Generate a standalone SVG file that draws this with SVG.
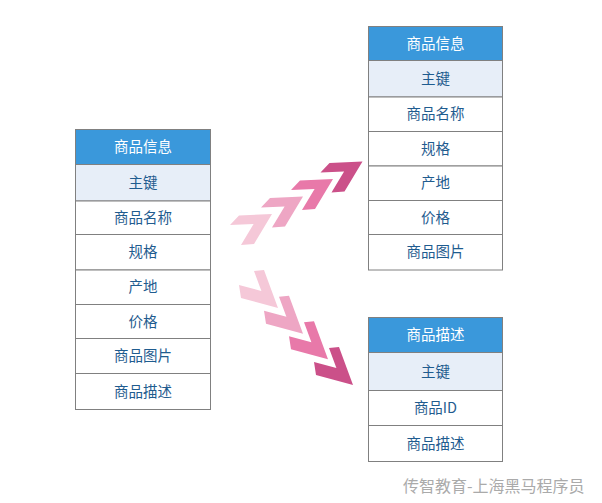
<svg xmlns="http://www.w3.org/2000/svg" width="602" height="503" viewBox="0 0 602 503">
<style>
.cell{fill:#ffffff;stroke:#808080;stroke-width:1}
.hdr{fill:#3A98DB;stroke:#808080;stroke-width:1}
.key{fill:#E7EEF8;stroke:#808080;stroke-width:1}
.t{font-family:"Noto Sans CJK SC","Liberation Sans",sans-serif;font-size:14.5px;fill:#1F5C8F;text-anchor:middle;dominant-baseline:central}
.th{fill:#ffffff}
.wm{font-family:"Noto Sans CJK SC","Liberation Sans",sans-serif;font-size:16px;fill:#AAAAAA;dominant-baseline:central}
</style>
<defs>
<polygon id="up" points="-42,11 -33,1.5 0,0 -18,30 -31,31 -18.4,9.9"/>
<polygon id="dn" points="-24,-37 -14,-38 0,0 -37,-10 -39,-23 -16.6,-17"/>
</defs>
<rect width="602" height="503" fill="#ffffff"/>

<g id="connectors">
<use href="#up" transform="translate(272,214)" fill="#F5C8D8"/>
<use href="#up" transform="translate(303,196.5)" fill="#EEA6C4"/>
<use href="#up" transform="translate(333,179)" fill="#E879A9"/>
<use href="#up" transform="translate(362.5,161.5)" fill="#CB5089"/>
<use href="#dn" transform="translate(278,308)" fill="#F5C8D8"/>
<use href="#dn" transform="translate(303,333.7)" fill="#EEA6C4"/>
<use href="#dn" transform="translate(328,359.3)" fill="#E879A9"/>
<use href="#dn" transform="translate(353,385)" fill="#CB5089"/>
</g>

<g id="table-left">
<rect class="hdr" x="75.5" y="129.5" width="135" height="35"/>
<rect class="key" x="75.5" y="164.5" width="135" height="36.5"/>
<rect class="cell" x="75.5" y="201" width="135" height="33.5"/>
<rect class="cell" x="75.5" y="234.5" width="135" height="35.5"/>
<rect class="cell" x="75.5" y="270" width="135" height="34.5"/>
<rect class="cell" x="75.5" y="304.5" width="135" height="34"/>
<rect class="cell" x="75.5" y="338.5" width="135" height="35"/>
<rect class="cell" x="75.5" y="373.5" width="135" height="36"/>
<text class="t th" x="143" y="145.5">商品信息</text>
<text class="t" x="143" y="181.25">主键</text>
<text class="t" x="143" y="216.25">商品名称</text>
<text class="t" x="143" y="250.75">规格</text>
<text class="t" x="143" y="285.75">产地</text>
<text class="t" x="143" y="320">价格</text>
<text class="t" x="143" y="354.5">商品图片</text>
<text class="t" x="143" y="390">商品描述</text>
</g>

<g id="table-right-top">
<rect class="hdr" x="368.5" y="26.5" width="134" height="34"/>
<rect class="key" x="368.5" y="60.5" width="134" height="36.5"/>
<rect class="cell" x="368.5" y="97" width="134" height="34.5"/>
<rect class="cell" x="368.5" y="131.5" width="134" height="34.5"/>
<rect class="cell" x="368.5" y="166" width="134" height="34.5"/>
<rect class="cell" x="368.5" y="200.5" width="134" height="34"/>
<rect class="cell" x="368.5" y="234.5" width="134" height="35.5"/>
<text class="t th" x="435.5" y="42">商品信息</text>
<text class="t" x="435.5" y="77.25">主键</text>
<text class="t" x="435.5" y="112.75">商品名称</text>
<text class="t" x="435.5" y="147.25">规格</text>
<text class="t" x="435.5" y="181.75">产地</text>
<text class="t" x="435.5" y="216">价格</text>
<text class="t" x="435.5" y="250.75">商品图片</text>
</g>

<g id="table-right-bottom">
<rect class="hdr" x="368.5" y="317.5" width="134" height="35"/>
<rect class="key" x="368.5" y="352.5" width="134" height="38"/>
<rect class="cell" x="368.5" y="390.5" width="134" height="35"/>
<rect class="cell" x="368.5" y="425.5" width="134" height="36"/>
<text class="t th" x="435.5" y="333.5">商品描述</text>
<text class="t" x="435.5" y="370">主键</text>
<text class="t" x="435.5" y="406.5">商品ID</text>
<text class="t" x="435.5" y="442">商品描述</text>
</g>

<text class="wm" x="403" y="484.5">传智教育-上海黑马程序员</text>
</svg>
